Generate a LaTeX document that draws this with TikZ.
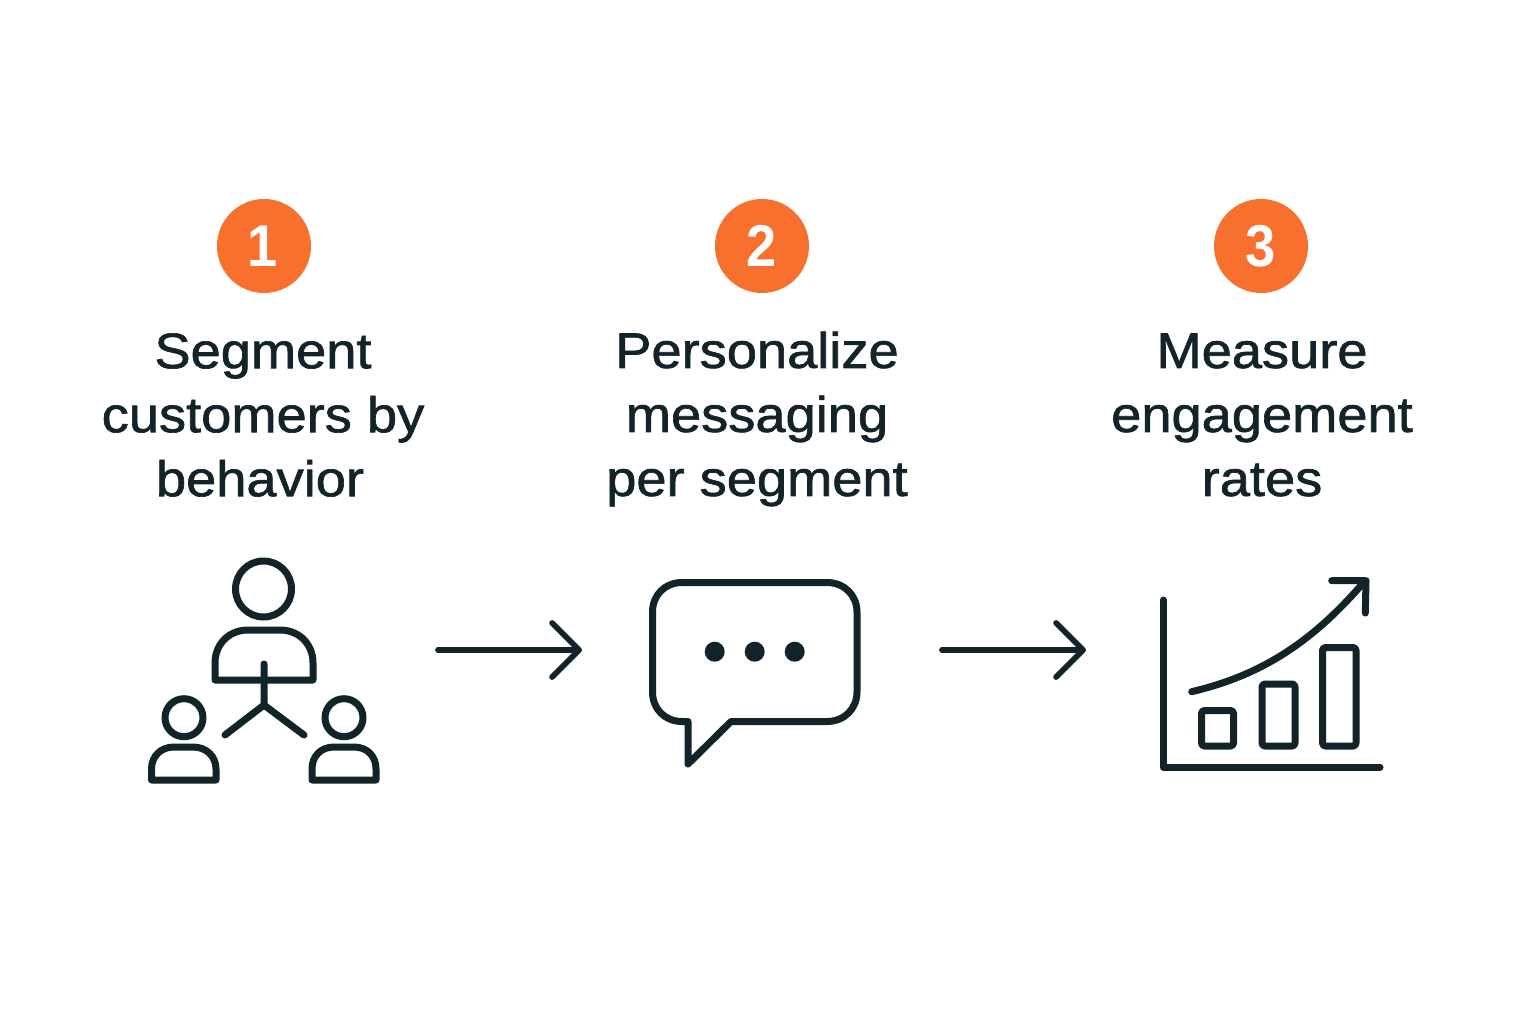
\documentclass[tikz,border=0pt]{standalone}
\usepackage{fontspec}
\setmainfont{Liberation Sans}
\newfontfamily\labfont[FakeBold=1.3,FakeStretch=1.085]{Liberation Sans}
\newfontfamily\numfont[FakeStretch=0.92]{Liberation Sans Bold}
\usetikzlibrary{arrows.meta}
\definecolor{ink}{HTML}{12232A}
\definecolor{badge}{HTML}{F8702D}
\tikzset{
  icon/.style={draw=ink,line width=7pt,line cap=round,line join=round},
  badgenode/.style={circle,fill=badge,minimum size=94pt,inner sep=0pt,text=white,font=\numfont\fontsize{59}{59}\selectfont},
  steplabel/.style={align=center,text=ink,inner sep=0pt,anchor=center,font=\labfont\fontsize{50}{64}\selectfont},
  flow/.style={draw=ink,line width=5.8pt,line cap=round,-{Straight Barb[round,length=27pt,width=54pt,line width=5.8pt]}},
  dotmark/.style={circle,fill=ink,minimum size=20pt,inner sep=0pt}
}
\begin{document}
\begin{tikzpicture}[x=1pt,y=-1pt]
\useasboundingbox (0,0) rectangle (1536,1024);
\fill[white] (0,0) rectangle (1536,1024);
% badges
\node[badgenode] (b1) at (264,246) {\raisebox{-1pt}{1}\hspace*{2pt}};
\node[badgenode] (b2) at (762,246) {\raisebox{-1pt}{2}};
\node[badgenode] (b3) at (1261,246) {\raisebox{-1pt}{3}};
% labels
\node[steplabel] (t1) at (263,415) {Segment\\customers by\\behavior\hspace*{6pt}};
\node[steplabel] (t2) at (757,419) {Personalize\\messaging\\per segment};
\node[steplabel] (t3) at (1262,415) {Measure\\engagement\\rates};
% people icon
\draw[icon] (263.5,589) circle (28);
\draw[icon] (215,680) -- (215,663) .. controls (215,644) and (229,630) .. (248,630) -- (280,630) .. controls (299,630) and (313,644) .. (313,663) -- (313,680) -- cycle;
\draw[icon] (264,664) -- (264,705) (225,735) -- (264,705) -- (304,735);
\draw[icon] (184,717.7) circle (19);
\draw[icon] (344,717.7) circle (19);
\draw[icon] (151.5,780) -- (151.5,769) .. controls (151.5,756) and (161,747) .. (174,747) -- (193,747) .. controls (206,747) and (216,756) .. (216,769) -- (216,780) -- cycle;
\draw[icon] (312,780) -- (312,769) .. controls (312,756) and (321,747) .. (334,747) -- (354,747) .. controls (367,747) and (376,756) .. (376,769) -- (376,780) -- cycle;
% arrows
\coordinate (a1s) at (438,650); \coordinate (a1e) at (582,650);
\coordinate (a2s) at (942,650); \coordinate (a2e) at (1086,650);
\draw[flow] (a1s) -- (a1e);
\draw[flow] (a2s) -- (a2e);
% speech bubble
\draw[icon] (688,721.5) -- (682,721.5) .. controls (665,721.5) and (652.5,709) .. (652.5,692) -- (652.5,612) .. controls (652.5,595) and (665,582.5) .. (682,582.5) -- (827,582.5) .. controls (844,582.5) and (857,595) .. (857,612) -- (857,692) .. controls (857,709) and (844,721.5) .. (827,721.5) -- (731,721.5) -- (688,764) -- cycle;
\node[dotmark] (d1) at (714.7,651.7) {};
\node[dotmark] (d2) at (754.7,651.7) {};
\node[dotmark] (d3) at (794.7,651.7) {};
% chart
\draw[icon] (1163.3,600) -- (1163.3,767) -- (1380,767);
\draw[icon,rounded corners=3pt] (1201.5,710.5) rectangle (1233.5,746);
\draw[icon,rounded corners=3pt] (1262,684) rectangle (1295,746);
\draw[icon,rounded corners=3pt] (1322.5,647.5) rectangle (1356,746);
\draw[icon] (1191.7,691.7) .. controls (1258,676) and (1310,645) .. (1364,582);
\draw[icon] (1331.7,580.7) -- (1366,580.7) -- (1365.3,613);
\end{tikzpicture}
\end{document}
